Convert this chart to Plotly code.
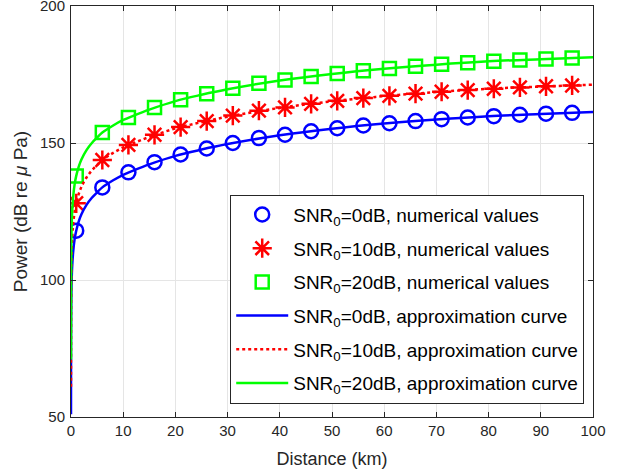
import plotly.graph_objects as go

# Marker (numerical) data
dist_pts = [1, 6, 11, 16, 21, 26, 31, 36, 41, 46, 51, 56, 61, 66, 71, 76, 81, 86, 91, 96]
p0_pts = [118.0, 133.8, 139.3, 143.0, 145.8, 148.0, 150.0, 151.8, 153.0, 154.3,
          155.4, 156.4, 157.2, 158.0, 158.7, 159.3, 159.8, 160.3, 160.7, 161.0]
p10_pts = [128.0, 143.8, 149.3, 153.0, 155.8, 158.0, 160.0, 161.8, 163.0, 164.3,
           165.4, 166.4, 167.2, 168.0, 168.7, 169.3, 169.8, 170.3, 170.7, 171.0]
p20_pts = [138.0, 153.8, 159.3, 163.0, 165.8, 168.0, 170.0, 171.8, 173.0, 174.3,
           175.4, 176.4, 177.2, 178.0, 178.7, 179.3, 179.8, 180.3, 180.7, 181.0]

# Approximation curves
dist_curve = [0.00045, 0.002, 0.01, 0.05, 0.1, 0.2, 0.4, 0.7, 1, 1.5, 2, 3, 4, 5, 6, 8, 10,
              12, 15, 20, 25, 30, 40, 50, 60, 70, 80, 90, 100]
c0 = [51.0, 64.0, 78.0, 92.0, 98.0, 104.0, 110.0, 115.0, 118.0, 121.5, 124.0, 127.5, 130.0,
      132.0, 133.8, 136.3, 138.4, 140.0, 142.2, 145.3, 147.6, 149.6, 152.8, 155.2, 157.1,
      158.6, 159.8, 160.6, 161.3]
c10 = [61.0, 74.0, 88.0, 102.0, 108.0, 114.0, 120.0, 125.0, 128.0, 131.5, 134.0, 137.5, 140.0,
       142.0, 143.8, 146.3, 148.4, 150.0, 152.2, 155.3, 157.6, 159.6, 162.8, 165.2, 167.1,
       168.6, 169.8, 170.6, 171.3]
c20 = [71.0, 84.0, 98.0, 112.0, 118.0, 124.0, 130.0, 135.0, 138.0, 141.5, 144.0, 147.5, 150.0,
       152.0, 153.8, 156.3, 158.4, 160.0, 162.2, 165.3, 167.6, 169.6, 172.8, 175.2, 177.1,
       178.6, 179.8, 180.6, 181.3]

x_ticks = [0, 10, 20, 30, 40, 50, 60, 70, 80, 90, 100]
y_ticks = [50, 100, 150, 200]

BLUE, RED, GREEN = "#0000FF", "#FF0000", "#00FF00"
FONT = "Arial, Liberation Sans, sans-serif"

fig = go.Figure()
fig.add_trace(go.Scatter(x=dist_pts, y=p0_pts, mode="markers",
                         name="SNR<sub>0</sub>=0dB, numerical values",
                         marker=dict(symbol="circle-open", size=14, color=BLUE, line=dict(width=2.5, color=BLUE)),
                         legendgroup="a"))
fig.add_trace(go.Scatter(x=dist_pts, y=p10_pts, mode="markers",
                         name="SNR<sub>0</sub>=10dB, numerical values",
                         marker=dict(symbol="asterisk-open", size=16, color=RED, line=dict(width=2.5, color=RED)),
                         legendgroup="b"))
fig.add_trace(go.Scatter(x=dist_pts, y=p20_pts, mode="markers",
                         name="SNR<sub>0</sub>=20dB, numerical values",
                         marker=dict(symbol="square-open", size=13, color=GREEN, line=dict(width=2.5, color=GREEN)),
                         legendgroup="c"))
fig.add_trace(go.Scatter(x=dist_curve, y=c0, mode="lines", line_shape="spline",
                         name="SNR<sub>0</sub>=0dB, approximation curve",
                         line=dict(color=BLUE, width=2.5), legendgroup="d"))
fig.add_trace(go.Scatter(x=dist_curve, y=c10, mode="lines", line_shape="spline",
                         name="SNR<sub>0</sub>=10dB, approximation curve",
                         line=dict(color=RED, width=2.5, dash="dot"), legendgroup="e"))
fig.add_trace(go.Scatter(x=dist_curve, y=c20, mode="lines", line_shape="spline",
                         name="SNR<sub>0</sub>=20dB, approximation curve",
                         line=dict(color=GREEN, width=2.5), legendgroup="f"))

axis_common = dict(showline=True, linecolor="#262626", linewidth=1, mirror="ticks",
                   ticks="inside", ticklen=5, tickcolor="#262626",
                   showgrid=True, gridcolor="#E5E5E5", gridwidth=1, zeroline=False,
                   tickfont=dict(family=FONT, size=15, color="#262626"))

fig.update_xaxes(range=[0, 100], tickvals=x_ticks, **axis_common,
                 title=dict(text="Distance (km)", font=dict(family=FONT, size=18, color="#262626"), standoff=14))
fig.update_yaxes(range=[50, 200.001], tickvals=y_ticks, **axis_common, ticklabelstandoff=2,
                 ticklabeloverflow="allow",
                 title=dict(text="Power (dB re <i>μ</i> Pa)", font=dict(family=FONT, size=19, color="#262626"), standoff=7))

fig.update_layout(
    width=624, height=476,
    margin=dict(l=71, r=31, t=6, b=59, autoexpand=False),
    plot_bgcolor="white", paper_bgcolor="white",
    font=dict(family=FONT, color="#262626"),
    legend=dict(x=0.305, y=0.541, xanchor="left", yanchor="top",
                bgcolor="white", bordercolor="#262626", borderwidth=1,
                font=dict(family=FONT, size=19, color="#000000"),
                tracegroupgap=6, traceorder="grouped", itemwidth=52),
)

fig.write_html("out.html", config={"displayModeBar": False},
               post_script="document.body.style.margin='0px';")
